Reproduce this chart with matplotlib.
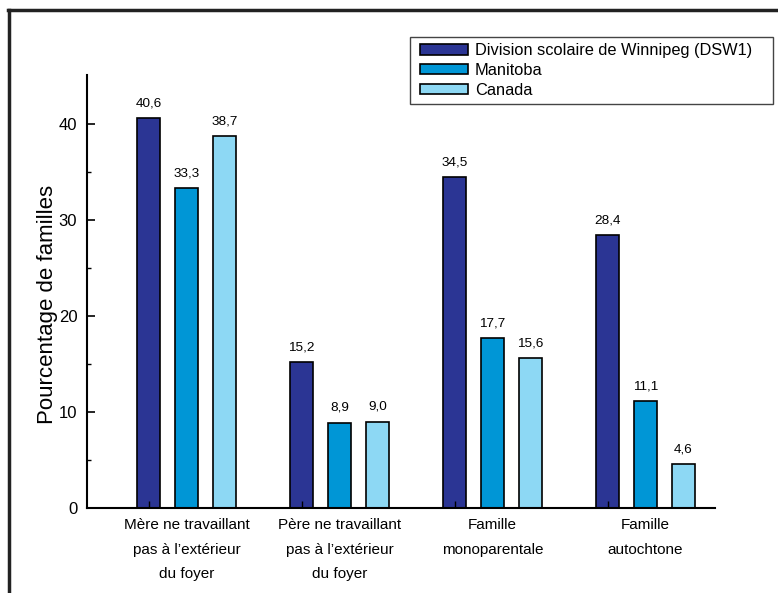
import matplotlib
matplotlib.use("Agg")
import matplotlib.pyplot as plt
from matplotlib.lines import Line2D
from matplotlib.patches import Rectangle
import numpy as np

plt.rcParams['font.family'] = ['Liberation Sans', 'DejaVu Sans']

categories = ["Mère ne travaillant\npas à l’extérieur\ndu foyer",
              "Père ne travaillant\npas à l’extérieur\ndu foyer",
              "Famille\nmonoparentale",
              "Famille\nautochtone"]
series_names = ["Division scolaire de Winnipeg (DSW1)", "Manitoba", "Canada"]
dsw1 = [40.6, 15.2, 34.5, 28.4]
manitoba = [33.3, 8.9, 17.7, 11.1]
canada = [38.7, 9.0, 15.6, 4.6]
colors = ["#2B3594", "#0096D6", "#8DD8F4"]

W, H = 778, 593
fig = plt.figure(figsize=(W / 100, H / 100), dpi=100)
ax = fig.add_axes([87/W, 1-508/H, (715-87)/W, (508-75)/H])

x = np.arange(len(categories))
width = 0.15
offset = 0.248
series = [dsw1, manitoba, canada]
for i, (vals, name, c) in enumerate(zip(series, series_names, colors)):
    pos = x + (i - 1) * offset
    ax.bar(pos, vals, width, color=c, edgecolor="black", linewidth=1.2, label=name)
    for p, v in zip(pos, vals):
        ax.text(p, v + 0.9, f"{v:.1f}".replace(".", ","), ha="center", va="bottom", fontsize=9.7)

ax.set_xlim(-0.65, 3.454)
ax.set_ylim(0, 45.1)
ax.spines['top'].set_visible(False)
ax.spines['right'].set_visible(False)
ax.spines['left'].set_linewidth(1.5)
ax.spines['bottom'].set_linewidth(1.5)

ax.set_yticks([0, 10, 20, 30, 40])
ax.set_yticks([5, 15, 25, 35], minor=True)
ax.tick_params(axis='y', which='major', direction='in', length=6, width=1.2, labelsize=12, pad=7)
ax.tick_params(axis='y', which='minor', direction='in', length=3, width=1)

ax.set_xticks(x - offset)
ax.set_xticklabels([])
ax.tick_params(axis='x', which='major', direction='in', length=5, width=1)
ax.set_xticks(x, minor=True)
ax.set_xticklabels(categories, minor=True, fontsize=11, linespacing=1.95)
ax.tick_params(axis='x', which='minor', length=0, pad=7.5)

ax.set_ylabel("Pourcentage de familles", fontsize=16)
ax.yaxis.set_label_coords(-0.046, 0.469)

# legend entries without frame, boxed by a separate rectangle
leg = ax.legend(loc="upper left", bbox_to_anchor=(420/W, 1-43/H), bbox_transform=fig.transFigure,
                fontsize=11.75, frameon=False, borderpad=0,
                handlelength=2.95, handleheight=0.62, handletextpad=0.42, labelspacing=0.3,
                borderaxespad=0)
fig.add_artist(Rectangle((410/W, 1-104/H), (773-410)/W, (104-37)/H, transform=fig.transFigure,
                         facecolor="none", edgecolor="#444444", linewidth=1.0))

# outer frame: top and left rules
fig.add_artist(Line2D([8/W, 1], [1-10/H, 1-10/H], transform=fig.transFigure, color="#222222", lw=2.5))
fig.add_artist(Line2D([9/W, 9/W], [0, 1-10/H], transform=fig.transFigure, color="#222222", lw=2.5))

fig.savefig("out.png", dpi=100)
